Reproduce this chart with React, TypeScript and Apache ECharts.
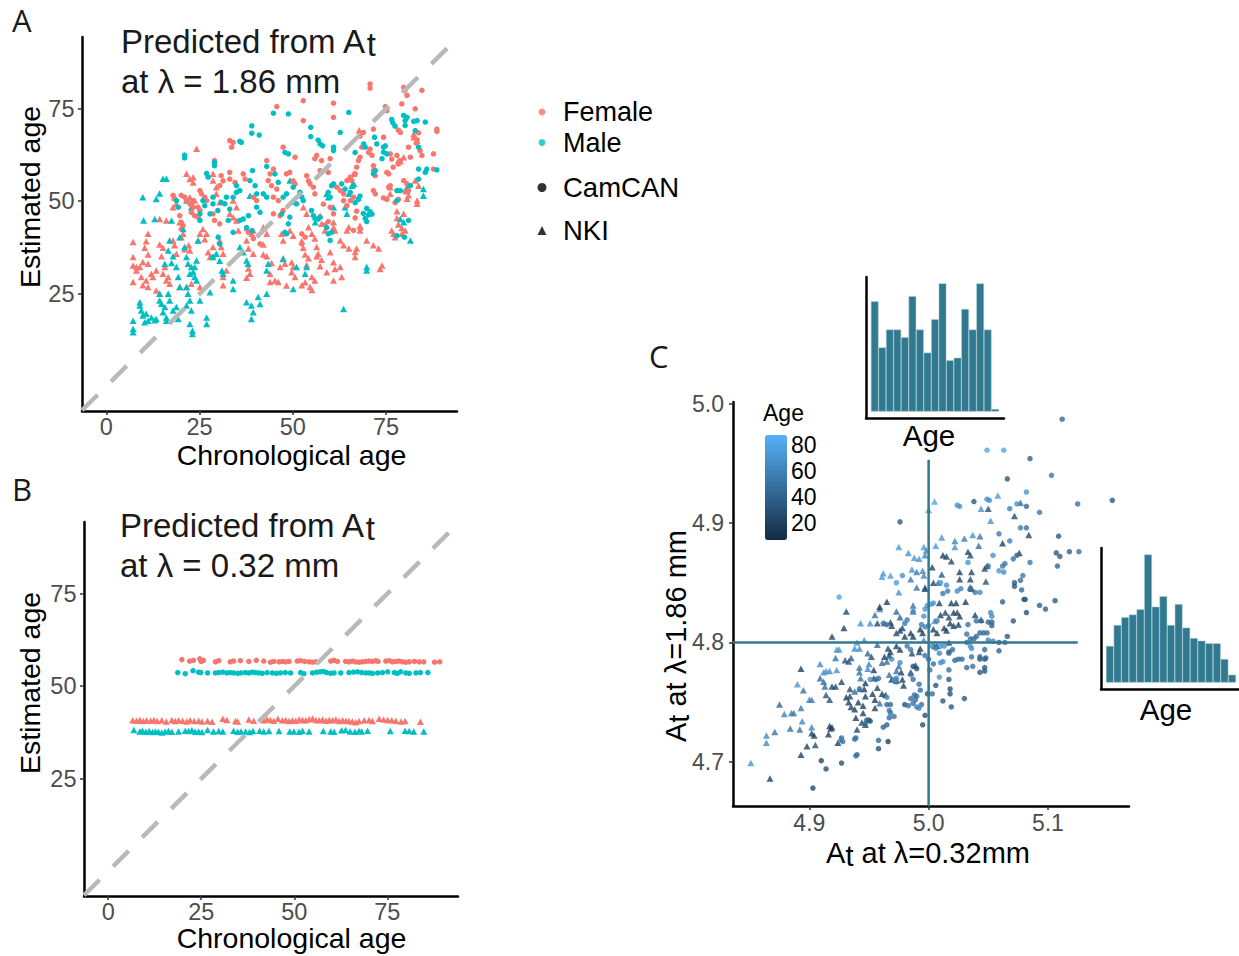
import { useEffect, useRef } from 'react';
import * as echarts from 'echarts';

const FONT = "'Liberation Sans', Arial, sans-serif";
const FEMALE = '#F8766D';
const MALE = '#00BFC4';
const HIST = '#31798f';

// ---------- Panel A: predicted from At at λ = 1.86 mm  [chronological age, estimated age]
const aFemaleCamCAN: number[][] = [
  [70.7,81.7],[70.7,80.6],[79.7,80.8],[80.1,80],[84.6,80],[80.6,78.6],[52.8,77.2],[45.7,75.6],[60.9,76.5],[60.9,72.7],
  [52.8,71.8],[74.8,75.6],[75.2,74.5],[82.8,75],[79.2,76.3],[71.6,69.5],[74.3,67.3],[68,67.6],[68.9,68.6],[78.3,69.2],
  [78.8,68.6],[83.7,68.5],[83.3,66.6],[83.1,65.7],[88.6,69.5],[88.6,68.9],[87.7,62.8],[87.7,58.7],[84.1,63.7],[84.6,62.4],
  [81.5,61.9],[81,64.6],[76.1,62.8],[76.5,61.4],[77.9,62.4],[78.3,60.1],[76.9,59.2],[78.8,61],[70.3,63.2],[70.7,64.1],
  [71.2,62.4],[68.5,64.6],[68,61.9],[67.6,61],[71.6,59.6],[71.6,58.3],[72.1,56.9],[75.2,57.8],[75.7,57.4],[76.1,54.2],
  [75.7,53.8],[74.3,50.9],[75.2,50.5],[77.4,49.6],[78.3,50.5],[80.6,54.7],[79.7,55.6],[80.1,52.5],[81,52.9],[71.6,52.9],
  [72.1,52],[67.1,59.2],[66.7,57.4],[65.8,55.6],[61.8,53.8],[62.7,52.9],[63.6,52],[64.5,55.6],[65.4,56.5],[60,61.5],
  [57.7,61],[56.4,62.4],[55.9,61.5],[57.3,58.3],[57.7,57.8],[59.5,57.8],[55.5,53.8],[55.9,52],[58.2,49.2],[60,48.4],
  [60.9,46.6],[63.6,50.2],[64.5,48.8],[65.4,50.2],[66.3,51.1],[67.1,47.3],[66.7,45.5],[53.7,56.9],[54.2,55.5],[54.6,54.7],
  [50.1,55.5],[50.6,54.7],[48.3,57.4],[49.2,57.8],[47.4,64.6],[50.6,61.9],[44.8,58.7],[43.9,57.4],[43.4,55.6],[44.3,54.2],
  [45.7,53.3],[44.8,51.1],[46.1,50.2],[43,61],[39.4,51.1],[40.3,50.2],[36.7,57.4],[37.2,56],[34,65.9],[33.6,64.6],
  [33.1,66.4],[33.1,57.8],[33.1,56],[34.5,55.1],[30.8,56.9],[31.3,55.5],[30.4,54.2],[29,61],[25.1,52.9],[25.5,52],
  [26.4,51.1],[26.9,50.2],[24.6,48.4],[25.1,47.5],[28.6,46.6],[29,44.8],[30.4,43.9],[23.3,50.2],[22.4,49.3],[23.3,48.4],
  [22.8,47],[23.7,46.1],[21,51.1],[21.5,50.2],[20.1,51.6],[17.9,51.6],[18.3,50.7],[19.7,46.1],[20.1,44.3],[20.6,43.4],
  [24.6,45.7],[39.4,39.9],[41.2,38.5],[37.6,42.5],[38.1,41.6],[52.4,41.2],[53.3,40.3],[52.4,38.5],[47.4,47.5],[46.6,46.1],
  [44.8,46.6],[59.5,44.5],[58.6,43.6],[66.3,42.1],[68.1,42.5]
];
const aFemaleNKI: number[][] = [
  [7.2,39],[7.2,34.9],[7.2,32.6],[8.1,32.2],[7.2,28.2],[8.1,31.3],[9,32.2],[9.4,29.5],[10.7,28.6],[9.8,27.3],
  [11.2,26.8],[10.7,39.2],[10.3,37.4],[11.2,35.6],[9.8,33.6],[11.2,33.1],[12.1,30.4],[12.5,29.5],[13.4,31.3],[14.3,38.3],
  [15.2,37.4],[14.8,35.1],[15.7,32.2],[15.2,30.4],[16.6,29.5],[13.4,25.9],[14.3,25],[16.1,28.6],[17,27.7],[11.2,41.2],
  [14.3,45.2],[16.1,44.8],[18.3,51.1],[18.8,49.3],[17.9,48.4],[19.7,44.3],[20.1,43],[17.9,39.4],[18.3,38.1],[18.8,35.8],
  [20.6,41.2],[20.1,40.3],[21,37],[22.1,38.1],[22.4,36.7],[22.4,51.1],[22.8,49.7],[23.7,50.2],[24.2,64.2],[23.3,56.5],
  [23.3,55.1],[25.9,42.5],[26.9,41.2],[26.4,39.7],[25.1,41.2],[24.6,39.4],[27.3,36.2],[28.6,37.6],[27.8,34.9],[31.3,29.5],
  [31.3,27.3],[32.2,31.3],[25.1,26.8],[30.4,39.4],[30.8,37.6],[31.3,35.8],[34,45.7],[34.9,44.8],[35.4,42.1],[33.1,46.6],
  [37.6,39.4],[38.1,37.2],[39.4,35.8],[38.1,31.8],[38.5,30.4],[37.6,29.3],[42.1,38.3],[42.1,35.6],[43,35.1],[44.3,33.3],
  [43.9,30.4],[45.2,28.6],[43.9,28.2],[46.1,28.2],[46.6,32.2],[47.9,33.1],[47.4,34.6],[48.3,27.2],[49.7,33.5],[50.1,32.2],
  [49.7,30.8],[50.6,29.5],[52.4,39.2],[52.8,37.4],[53.3,35.6],[54.2,34.6],[53.7,32.8],[53.3,28.1],[52.4,27.3],[54.6,26.8],
  [55.1,29.5],[55.9,28.6],[55.1,26],[54.2,43],[55.1,41.2],[55.9,39.9],[57.3,46.1],[57.7,43.9],[58.6,42.1],[56.4,35.1],
  [57.7,34.2],[57.3,32.4],[60,36.2],[60.9,33.5],[61.3,31.7],[59.1,30.8],[60.9,28.6],[62.7,32.2],[63.1,29.5],[60.9,44.3],
  [60.9,42.9],[61.3,42.1],[62.7,39.4],[63.6,38.1],[65,37.2],[66.7,36.3],[67.1,37.2],[66.7,34.9],[64.5,42.1],[65,43],
  [68,43.4],[68,42.1],[67.8,69.2],[66.3,57.4],[69.8,39.4],[71.6,38.1],[73,37.2],[73.9,32.6],[73.4,31.7],[76.1,53.8],
  [76.1,52],[76.5,42.1],[77,41.2],[77.9,47.3],[77.9,45.5],[78.3,43.7],[79.2,42.8],[79.7,46.6],[80.1,42.1],[81,51.6],
  [80.6,50.7],[83.3,49.3],[83.3,50.2],[78.3,61],[78.8,60.8],[79.7,61.9],[82.4,68.2],[82.4,67.3],[83.3,66.4],[82.8,55.6],
  [83.7,54.2],[77.4,40.3],[79.2,41.2],[21.5,26.8],[22.8,27.7],[19.7,26.8],[21.5,57.4],[22.4,56],[28.6,57.4],[28.6,55.6],
  [29.5,53.8],[29.5,52],[30.4,49.7],[34,50.2],[34.9,48.4],[39,41.2],[39.4,42.1],[42.1,43],[43,41.2],[47,41.2],
  [47.4,39.4],[49.2,42.1],[50.1,40.7],[52.8,48.4],[53.7,46.6],[56.4,37.6],[56.8,35.8]
];
const aMaleCamCAN: number[][] = [
  [21,62.5],[21,61.7],[44.8,73.8],[48.8,73.6],[39,70.4],[39,68.4],[41,67.9],[35.8,66.2],[36.2,65.9],[29,60.5],
  [29,59.6],[26.9,57.5],[27.3,56.5],[39.2,58.3],[38.5,55.6],[39.9,54.2],[40.3,52],[43,59.4],[47.9,63.2],[48.8,62.8],
  [54.8,70],[54.8,67.5],[56.8,66.5],[57.3,65.5],[58,65],[65,74],[62.7,68.6],[60.9,64.6],[60.9,63.7],[66.7,63.2],
  [69,65.5],[69.4,64.6],[71.9,67.3],[72.5,65.5],[74.3,64.6],[74.8,65],[75.2,62.8],[76.5,72.1],[76.8,71.2],[77.4,70.3],
  [79.7,73.2],[80.1,71.8],[80.6,72.7],[80.1,70.5],[82.4,71.6],[83.3,71.8],[85.5,71.4],[82.8,69.1],[81.5,54.2],[83.7,58.7],
  [83.7,56],[85.5,57.8],[85.9,58.7],[88.6,58.5],[77.9,52.9],[83.7,64.6],[79.9,40.3],[77.9,40.7],[69.8,48.1],[70.3,46.3],
  [69.4,45.4],[68.9,46.7],[69.8,44.5],[70.7,47.2],[71.2,46.5],[68,51.4],[67.6,50.5],[66.7,49.6],[66.3,54.2],[64,53.3],
  [65.4,52.4],[63.1,54.7],[60.9,54.7],[60.4,54.2],[59.5,52.4],[60,51.1],[59.1,42.9],[60.4,41.6],[59.5,41.2],[60,39.4],
  [57.3,45.7],[56.8,45.2],[55,47.5],[55.5,46.1],[51.9,52.4],[52.4,51.1],[52.8,50.2],[50.1,49.7],[51,49.3],[47.4,51.1],
  [48.3,52],[47,46.6],[49.2,45.7],[48.8,43.9],[47.9,41.6],[48.3,41.2],[46.1,55.1],[42.1,52],[43,51.1],[40.3,48.4],
  [41.2,47],[38.1,46.1],[36.7,45.2],[37.6,42.9],[39,42],[35.8,52.9],[34.9,54.2],[34.9,52.4],[34,51.1],[32.2,51.1],
  [31.8,49.3],[33.1,47.9],[32.7,44.8],[30.8,49.7],[29.9,47.5],[28.6,51.1],[28.6,49.3],[27.8,46.6],[25.9,50.2],[26.4,48.8],
  [25.1,46.6],[25.1,44.8],[30,40.3],[30.4,38.5],[28.6,34.9],[34,41.6],[35.8,44.8],[18.8,50.2],[19.3,48.4],[50.1,53.8],
  [45.2,57.4],[72.1,58.3],[71.6,57.4],[73.9,61.5],[74.3,63.3],[77.9,50.2],[78.8,52.9],[81,44.8]
];
const aMaleNKI: number[][] = [
  [7.2,17.7],[7.2,15.5],[7.2,14.6],[9,22.7],[9,21.8],[9.4,20.5],[9.8,19.1],[10.7,19.6],[11.2,17.7],[10.3,17.3],
  [13,17.8],[13.4,18.2],[14.3,25],[14.3,23.2],[14.8,22.3],[15.7,21.4],[15.2,20],[16.1,18.6],[16.1,17.7],[12.1,18.6],
  [9.8,51.1],[10,44.8],[13,45.2],[13.4,50.6],[14.3,52.1],[15.2,56.1],[16.1,56.1],[16.6,25],[17,23.2],[17.9,20.5],
  [18.8,21.4],[19.3,18.2],[17,39.4],[17.9,35.1],[17.5,33.3],[18.8,32.2],[19.3,29.5],[19.7,26.8],[21.5,26.8],[21.9,25],
  [22.4,23.2],[21.5,21.8],[22.8,20.5],[22.4,16.8],[23.1,15],[23.1,14.1],[21,37.6],[21.5,34.9],[21.9,33.1],[22.8,32.2],
  [23.3,30.9],[22.4,30.4],[23.7,29.5],[24.2,28.6],[24.2,34],[23.7,32.2],[24.6,39.4],[25.1,23.2],[26.9,18.6],[26.9,16.8],
  [27.8,25.4],[21.5,50.2],[22.8,48.4],[28.6,34.9],[29.5,35.8],[30.4,33.9],[31,31.3],[31.3,30.4],[34,28.6],[34,26.3],
  [37.6,22.7],[38.9,21.8],[39.4,20],[38.9,18.2],[40.7,24.1],[41.2,22.2],[43,25],[37.6,34],[38,33.1],[35.8,37.6],
  [36.7,36.2],[43.4,33.1],[43,31.3],[47.4,34.4],[50.1,26.3],[53.3,30.4],[53.7,32.2],[51,32.2],[63.6,20.9],[69.8,32.2],
  [69.8,31.3],[78.8,45.2],[79.7,44.3],[81.5,39.4],[85,53.3],[85,51.5],[80.6,53.8],[80.6,52.9],[66.3,54.7],[65.8,54.2],
  [65,52],[59.1,52],[59.5,51.1],[60.9,48.4],[56,45.7],[56,44.3],[64,48.4],[64.5,46.6],[49.2,55.6],[38.5,51.5],
  [15.7,33.1],[16.6,36.7],[17.5,44.8],[19.7,40.3],[20.6,42.5]
];

// ---------- Panel B: predicted from At at λ = 0.32 mm
const bFemaleCamCAN: number[][] = [
  [19.8,57.2],[21.9,56.8],[22.9,57],[24.6,57.4],[25,56.7],[25.6,57],[28.8,56.6],[29.7,56.9],[32.8,56.6],[33.7,56.8],
  [35.5,56.9],[37.8,56.7],[39.8,57],[41.8,56.8],[43.6,56.5],[44.5,56.7],[45.9,56.6],[46.8,56.7],[47.7,56.6],[48.6,56.7],
  [50.8,56.8],[51.7,56.9],[52.8,56.7],[54,56.6],[54.9,56.5],[55.8,56.6],[59.8,56.8],[60.7,57],[61.6,56.7],[63.8,56.7],
  [64.7,56.6],[65.6,56.8],[66.5,56.6],[67.4,56.5],[68.3,56.6],[69.2,56.7],[70.1,56.8],[71,56.7],[71.9,56.9],[72.5,56.7],
  [74.6,56.8],[75.5,56.9],[76.4,56.6],[77.3,56.7],[78.2,56.8],[79.1,56.6],[80,56.5],[80.9,56.6],[82.3,56.7],[83.6,56.6],
  [84.8,56.6],[87.7,56.5],[89.1,56.6]
];
const bMaleCamCAN: number[][] = [
  [18.7,53.7],[20.7,53.4],[22.8,54.2],[24.3,53.8],[24.9,53.7],[26.7,53.6],[28.8,53.6],[29.7,53.7],[30.8,53.8],[31.9,53.6],
  [32.8,53.7],[33.7,53.6],[34.8,53.5],[35.7,53.6],[36.9,53.7],[37.8,53.6],[38.7,53.8],[39.6,53.7],[40.5,53.6],[41.4,53.5],
  [42.7,53.7],[44.1,53.6],[45.2,53.5],[46.3,53.6],[47.6,53.7],[49,53.6],[51.7,53.7],[52.6,53.4],[54.9,53.6],[56,53.8],
  [56.9,53.9],[57.8,54],[58.7,53.7],[59.8,53.5],[60.7,53.6],[62.5,53.6],[64.7,53.7],[65.9,53.8],[67,53.9],[68.1,53.7],
  [69.2,53.6],[70.1,53.6],[71,53.5],[72.4,53.6],[73.7,53.7],[75.1,53.9],[76.9,53.7],[77.7,53.5],[78.6,53.9],[80,53.6],
  [80.9,53.5],[82.7,53.6],[83.9,53.7],[85.9,53.7]
];
const bFemaleNKI: number[][] = [
  [6.6,40.8],[7.6,40.7],[8.5,40.9],[9.4,40.6],[10.3,40.8],[11.4,40.7],[12.3,40.9],[13.2,40.6],[14.4,40.8],[15.6,40.5],
  [17.1,40.9],[18,40.6],[18.9,40.8],[20,40.7],[21.1,40.5],[22,40.8],[23.1,40.6],[24.3,40.7],[25.2,40.5],[26.7,40.6],
  [27.9,40.4],[30.8,41.2],[31.9,40.9],[34.2,40.6],[34.8,40.5],[37.8,41],[39.1,40.7],[41.8,40.8],[42.7,41.1],[43.6,40.9],
  [44.5,40.7],[45.6,41.2],[46.8,40.8],[47.7,40.9],[48.6,40.6],[49.5,40.8],[50.4,40.7],[51.3,41],[52.2,40.9],[53.1,40.8],
  [54,41.1],[54.9,41.3],[55.8,40.9],[56.7,40.8],[57.6,41],[58.5,40.7],[59.4,40.9],[60.3,40.8],[61.2,41],[62.1,40.6],
  [63,40.8],[63.9,40.7],[64.7,40.6],[65.6,40.5],[66.5,40.3],[67.4,40.6],[68.8,40.8],[70.1,40.9],[71,40.6],[72.8,41.2],
  [74,41],[75.1,40.9],[76.2,40.8],[77.3,40.7],[78.7,40.5],[79.8,40.6],[83.9,40.4]
];
const bMaleNKI: number[][] = [
  [6.9,38.2],[8.5,37.8],[9.2,38],[10.1,37.7],[11,37.9],[11.9,37.6],[12.7,37.8],[13.5,37.7],[14.4,37.5],[15.3,37.8],
  [16.2,37.9],[17.1,37.7],[18.9,37.8],[20.7,38],[21.6,37.9],[22.5,38.1],[23.4,37.7],[24.3,37.8],[25.2,37.6],[26.7,38.2],
  [28.3,37.8],[29.7,37.9],[30.8,37.8],[33.7,38],[34.8,37.7],[35.7,37.8],[36.9,37.8],[38,37.6],[38.9,37.9],[40.7,38],
  [41.8,37.8],[43.2,37.9],[45.9,37.9],[48.8,37.8],[49.9,37.8],[51.3,37.7],[52.2,38],[54,37.8],[57.8,37.9],[59.8,37.8],
  [60.7,37.7],[62.7,38.1],[63.8,38.2],[65,37.8],[66.3,37.7],[67.4,37.9],[68.1,37.8],[69.7,38],[75.8,37.9],[79.8,38],
  [80.9,37.9],[82.1,37.8],[84.8,37.8]
];

// identity line endpoints (value on both axes)
const identityEnds = [-6.5, 94];

// ---------- Panel C: [At at λ=0.32mm, At at λ=1.86mm, Age]
const cCamCAN: number[][] = [
  [5.112,4.987,45],[5.049,4.961,82],[5.063,4.961,80],[5.085,4.954,40],[5.066,4.937,35],[5.103,4.940,55],[5.154,4.919,35],[5.125,4.916,50],
  [5.038,4.918,35],[5.049,4.920,65],[5.051,4.919,68],[5.024,4.915,72],[5.026,4.914,70],[5.068,4.912,60],[5.074,4.916,70],[5.082,4.926,72],
  [5.082,4.914,45],[5.093,4.909,55],[4.976,4.901,35],[5.077,4.896,55],[5.082,4.896,50],[5.109,4.889,35],[5.059,4.891,55],[5.068,4.885,60],
  [5.107,4.875,35],[5.110,4.872,38],[5.118,4.876,40],[5.126,4.876,50],[5.108,4.864,45],[5.085,4.867,55],[5.054,4.873,70],[5.071,4.870,50],
  [5.074,4.873,45],[5.064,4.866,55],[5.062,4.864,52],[5.050,4.864,50],[5.059,4.860,70],[5.063,4.859,68],[5.079,4.856,55],[5.077,4.852,50],
  [5.072,4.850,35],[5.072,4.847,33],[5.078,4.844,45],[5.080,4.836,30],[5.106,4.835,35],[5.062,4.834,40],[5.033,4.867,70],[4.925,4.838,80],
  [4.978,4.856,70],[4.973,4.850,75],[5.012,4.841,55],[5.016,4.843,55],[5.024,4.843,65],[5.027,4.845,62],[5.035,4.845,55],[5.039,4.842,55],
  [5.043,4.842,65],[5.010,4.850,70],[5.015,4.848,68],
  [4.903,4.678,25],[4.914,4.694,30],[4.910,4.701,25],[4.927,4.699,30],[4.939,4.705,50],[4.940,4.706,48],[4.939,4.720,45],[4.938,4.719,50],
  [4.927,4.720,50],[4.928,4.717,52],[4.958,4.711,30],[4.966,4.717,20],[4.958,4.718,45],[4.962,4.729,40],[4.965,4.731,42],[4.967,4.737,45],
  [4.968,4.741,50],[4.971,4.738,50],[4.967,4.743,55],[4.948,4.735,45],[4.947,4.732,45],[4.950,4.735,35],[4.951,4.734,35],[4.995,4.731,30],
  [4.997,4.739,30],[4.994,4.748,50],[4.990,4.746,60],[4.992,4.745,60],[4.980,4.748,30],[4.983,4.747,50],[4.987,4.749,50],[4.985,4.753,50],
  [4.989,4.752,50],[4.988,4.756,50],[4.990,4.755,48],[4.993,4.760,50],[4.992,4.765,50],[4.999,4.757,30],[5.003,4.757,45],[5.006,4.764,35],
  [5.012,4.751,35],[5.019,4.746,35],[5.018,4.757,30],[5.018,4.761,30],[5.017,4.769,35],[5.030,4.753,35],[5.009,4.771,70],[5.010,4.783,70],
  [5.012,4.784,68],[5.017,4.777,50],[5.009,4.791,65],[5.006,4.795,65],[5.013,4.797,70],[5.017,4.792,50],[5.032,4.800,50],[5.032,4.807,50],
  [5.035,4.803,45],[5.038,4.803,45],[5.040,4.805,45],[5.043,4.808,45],[5.046,4.808,45],[5.049,4.808,45],[5.037,4.780,50],[5.036,4.788,50],
  [5.035,4.797,70],[5.036,4.795,70],[5.043,4.788,40],[5.043,4.786,40],[5.047,4.786,40],[5.048,4.787,40],[5.047,4.779,35],[5.047,4.776,35],
  [5.043,4.775,35],[5.032,4.779,45],[5.028,4.786,45],[5.025,4.786,45],[5.022,4.785,45],[5.020,4.794,45],[5.017,4.791,45],[5.047,4.794,45],
  [5.059,4.793,40],[5.059,4.800,40],[5.064,4.800,50],[5.066,4.805,35],[5.050,4.802,60],[5.054,4.801,60],[5.050,4.817,40],[5.053,4.817,40],
  [5.053,4.814,40],[5.053,4.822,65],[5.052,4.825,65],[5.071,4.818,35],[5.082,4.825,30],[5.093,4.831,40],[5.098,4.828,40],[5.081,4.836,35],
  [5.040,4.818,50],[5.044,4.818,50],[5.033,4.815,50],[4.997,4.828,70],[4.999,4.831,70],[5.002,4.832,70],[5.004,4.833,70],[4.996,4.822,70],
  [4.987,4.826,65],[4.994,4.815,60],[4.997,4.813,60],[5.000,4.814,60],[5.007,4.818,55],[5.010,4.797,70],[5.003,4.797,65],[4.987,4.780,30],
  [4.990,4.778,30],[4.985,4.773,50],[4.987,4.769,50],[4.973,4.767,60],[4.973,4.770,60],[4.965,4.754,70],[4.965,4.748,45],[4.968,4.748,45],
  [4.971,4.769,65],[4.958,4.770,50],[4.956,4.769,50],[4.951,4.769,70],[4.942,4.761,55],[4.962,4.816,50],[4.965,4.815,50],[4.969,4.786,65],
  [4.976,4.783,65],[4.982,4.819,55],[4.980,4.816,55],[4.997,4.789,50],[5.000,4.786,50],[5.004,4.782,50],[5.001,4.777,50],[4.982,4.797,55],
  [4.985,4.794,55]
];
const cNKI: number[][] = [
  [5.005,4.918,80],[5.000,4.911,75],[5.058,4.923,75],[5.044,4.912,70],[5.050,4.912,30],[5.077,4.917,45],[5.072,4.906,25],[5.052,4.902,70],
  [5.084,4.890,25],[5.076,4.875,20],[5.062,4.883,20],[5.043,4.889,50],[5.037,4.890,70],[5.030,4.887,55],[5.022,4.885,60],[5.011,4.888,70],
  [5.006,4.881,75],[4.996,4.880,75],[4.975,4.880,75],[4.983,4.875,70],[4.988,4.871,70],[4.992,4.870,70],[4.997,4.873,65],[4.998,4.877,65],
  [5.012,4.873,20],[5.015,4.872,20],[5.019,4.868,25],[5.033,4.876,25],[5.035,4.873,30],[5.042,4.881,50],[5.022,4.880,70],[5.003,4.863,20],
  [4.995,4.860,65],[4.996,4.856,65],[5.011,4.857,35],[5.026,4.859,20],[5.036,4.859,25],[5.047,4.862,30],[5.049,4.864,25],[5.026,4.853,25],
  [5.035,4.853,25],[5.048,4.851,30],[5.035,4.846,20],[5.036,4.845,20],[4.986,4.861,70],[4.962,4.858,75],[4.968,4.856,75],[4.961,4.855,75],
  [4.975,4.842,70],[4.990,4.846,50],[4.997,4.846,50],[4.997,4.845,25],[5.004,4.850,25],[5.008,4.850,50],[4.985,4.853,55],[4.990,4.859,55],
  [4.851,4.699,70],[4.867,4.686,20],[4.864,4.722,65],[4.864,4.716,65],[4.871,4.725,50],[4.875,4.748,45],[4.879,4.740,60],[4.885,4.741,60],
  [4.887,4.741,55],[4.884,4.728,50],[4.892,4.727,50],[4.893,4.745,55],[4.890,4.765,70],[4.893,4.778,20],[4.895,4.760,50],[4.894,4.734,65],
  [4.902,4.729,60],[4.902,4.724,20],[4.904,4.722,20],[4.898,4.713,20],[4.893,4.706,20],[4.905,4.714,30],[4.900,4.752,60],[4.902,4.752,60],
  [4.909,4.782,65],[4.912,4.775,70],[4.914,4.776,70],[4.917,4.776,65],[4.909,4.770,45],[4.912,4.767,45],[4.913,4.763,45],[4.919,4.763,25],
  [4.922,4.763,25],[4.914,4.756,30],[4.917,4.752,30],[4.917,4.730,20],[4.918,4.728,20],[4.919,4.729,20],[4.916,4.723,20],[4.924,4.716,20],
  [4.926,4.719,60],[4.923,4.777,70],[4.922,4.787,50],[4.925,4.794,70],[4.923,4.794,70],[4.919,4.805,20],[4.929,4.812,20],[4.931,4.826,25],
  [4.938,4.795,65],[4.942,4.795,65],[4.940,4.800,75],[4.946,4.802,75],[4.927,4.767,25],[4.930,4.785,30],[4.933,4.784,30],[4.935,4.787,35],
  [4.931,4.754,20],[4.933,4.750,20],[4.935,4.746,20],[4.938,4.744,20],[4.939,4.737,20],[4.934,4.755,25],[4.934,4.761,25],[4.938,4.759,45],
  [4.942,4.761,45],[4.942,4.779,50],[4.942,4.775,50],[4.943,4.770,50],[4.947,4.766,20],[4.946,4.761,20],[4.947,4.755,20],[4.941,4.750,20],
  [4.945,4.747,20],[4.945,4.741,20],[4.940,4.727,25],[4.944,4.733,25],[4.947,4.731,25],[4.949,4.778,65],[4.950,4.782,65],[4.943,4.816,70],
  [4.951,4.816,70],[4.955,4.823,50],[4.959,4.828,50],[4.957,4.816,25],[4.963,4.816,65],[4.957,4.798,45],[4.949,4.791,45],[4.952,4.788,30],
  [4.954,4.777,20],[4.954,4.770,25],[4.957,4.762,25],[4.953,4.757,20],[4.955,4.752,20],[4.955,4.745,20],[4.959,4.749,50],[4.961,4.757,20],
  [4.964,4.756,20],[4.961,4.783,45],[4.965,4.784,45],[4.963,4.788,20],[4.967,4.789,20],[4.966,4.795,25],[4.968,4.792,25],[4.973,4.797,20],
  [4.976,4.794,20],[4.969,4.769,20],[4.973,4.768,20],[4.967,4.773,50],[4.975,4.780,50],[4.973,4.776,50],[4.977,4.775,20],[4.978,4.769,20],
  [4.979,4.764,20],[4.985,4.775,30],[4.989,4.781,25],[4.993,4.795,20],[4.986,4.791,25],[4.992,4.792,25],[4.973,4.808,25],[4.976,4.810,25],
  [4.978,4.812,25],[4.980,4.805,20],[4.985,4.808,20],[4.987,4.805,20],[4.993,4.811,20],[4.995,4.808,20],[4.996,4.802,65],[5.004,4.811,20],
  [5.007,4.808,20],[5.007,4.797,20],[5.005,4.797,20],[5.017,4.800,25],[5.005,4.818,70],[5.018,4.816,20],[5.021,4.814,20],[5.025,4.815,20],
  [5.010,4.823,20],[5.014,4.825,25],[5.017,4.821,25],[5.021,4.825,20],[5.024,4.825,25],[5.026,4.822,20],[5.039,4.823,20],[5.044,4.819,20],
  [5.019,4.833,20],[5.023,4.833,20],[5.031,4.834,20],[5.009,4.833,20],[5.015,4.810,20],[5.013,4.812,20],[4.965,4.834,20],[4.959,4.830,20],
  [4.973,4.826,45],[4.976,4.821,40],[4.987,4.826,50],[4.987,4.831,50],[4.968,4.817,25],[4.969,4.814,25]
];

// reference cross lines in panel C
const crossX = 5.0;
const crossY = 4.8;
const crossXEnd = 5.125;
const crossYEnd = 4.953;

// marginal histograms of Age (counts per bin)
const topAgeCounts = [43, 25, 32, 32, 29, 45, 32, 23, 36, 50, 20, 21, 40, 32, 50, 32, 1];
const rightAgeCounts = [14, 22, 25, 26, 28, 49, 29, 33, 22, 30, 21, 17, 16, 15, 15, 9, 3];

// colour scale
const ageMin = 7;
const ageMax = 88;
const ageTicks = [20, 40, 60, 80];

// axis ticks
const ageAxisTicksX = [0, 25, 50, 75];
const ageAxisTicksY = [25, 50, 75];
const atTicksX = [4.9, 5.0, 5.1];
const atTicksY = [4.7, 4.8, 4.9, 5.0];

const LABEL = { fontSize: 23.5, color: '#4d4d4d', fontFamily: FONT, lineHeight: 20 };
const LINE = { show: true, onZero: false, lineStyle: { color: '#000', width: 2.5 } };
const TICK = { lineStyle: { color: '#333', width: 1.5 }, length: 4 };
const NAME_FS = 28.5;

function ageXAxis(grid: number, gap: number, pad: number) {
  return {
    type: 'value', gridIndex: grid, min: -6.5, max: 94,
    name: 'Chronological age', nameLocation: 'middle', nameGap: gap, nameMoveOverlap: false,
    nameTextStyle: { fontSize: NAME_FS, lineHeight: 26, color: '#000', fontFamily: FONT, padding: [0, 0, 0, pad] },
    axisLine: LINE,
    axisTick: { show: true, ...TICK, customValues: ageAxisTicksX },
    axisLabel: { ...LABEL, margin: 5.5, customValues: ageAxisTicksX },
    splitLine: { show: false },
  };
}
function ageYAxis(grid: number, gap: number, pad: number) {
  return {
    type: 'value', gridIndex: grid, min: -6.7, max: 94.4,
    name: 'Estimated age', nameLocation: 'middle', nameRotate: 90, nameGap: gap, nameMoveOverlap: false,
    nameTextStyle: { fontSize: NAME_FS, lineHeight: 26, color: '#000', fontFamily: FONT, padding: [0, 0, 0, pad] },
    axisLine: LINE,
    axisTick: { show: true, ...TICK, customValues: ageAxisTicksY },
    axisLabel: { ...LABEL, margin: 7.5, customValues: ageAxisTicksY },
    splitLine: { show: false },
  };
}
function histAxis(grid: number, min: number, max: number, name?: string, gap?: number, pad?: number[]) {
  return {
    type: 'value', gridIndex: grid, min, max,
    name: name || '', nameLocation: 'middle', nameGap: gap || 0, nameMoveOverlap: false,
    nameTextStyle: { fontSize: 29.5, lineHeight: 26, color: '#000', fontFamily: FONT, padding: pad || 0 },
    axisLine: LINE, axisTick: { show: false }, axisLabel: { show: false }, splitLine: { show: false },
  };
}

const subRich = (size: number) => ({
  a: { fontSize: size, fontWeight: 'normal', color: '#1a1a1a', fontFamily: FONT, lineHeight: 40 },
  s: { fontSize: size, fontWeight: 'normal', color: '#1a1a1a', fontFamily: FONT, lineHeight: 32, padding: [7, 0, 0, 0] },
});
const axisRich = {
  a: { fontSize: 29, color: '#000', fontFamily: FONT, lineHeight: 28 },
  s: { fontSize: 29, color: '#000', fontFamily: FONT, lineHeight: 22, padding: [6, 0, 0, 0] },
};

function scatter(name: string, data: number[][], grid: number, color: string, tri: boolean) {
  return {
    name, type: 'scatter', xAxisIndex: grid, yAxisIndex: grid, data, silent: true,
    symbol: tri ? 'triangle' : 'circle', symbolSize: tri ? [7, 6.5] : 5.5,
    itemStyle: { color, opacity: 1 },
  };
}

export default function App() {
  const ref = useRef<HTMLDivElement>(null);
  useEffect(() => {
    if (!ref.current) return;
    const chart = echarts.init(ref.current, null, { renderer: 'svg' });
    const diag = identityEnds.map((v) => [v, v]);
    const letter = (t: string, left: number, top: number) => ({
      type: 'text', left, top,
      style: { text: t, fontSize: 31, lineHeight: 31, fontFamily: "'Open Sans', sans-serif", fill: '#1a1a1a' },
    });
    const option: any = {
      animation: false,
      textStyle: { fontFamily: FONT },
      grid: [
        { left: 82, top: 37, width: 375, height: 374, outerBoundsMode: 'none' },
        { left: 84, top: 522, width: 374, height: 374, outerBoundsMode: 'none' },
        { left: 733, top: 402, width: 396, height: 404, outerBoundsMode: 'none' },
        { left: 866, top: 277, width: 138, height: 141, outerBoundsMode: 'none' },
        { left: 1101, top: 548, width: 140, height: 141, outerBoundsMode: 'none' },
        { left: 765, top: 435, width: 22, height: 105, outerBoundsMode: 'none' },
      ],
      title: [
        { left: 121, top: 21, padding: 0, text: '{a|Predicted from A}{s|t}\n{a|at λ = 1.86 mm}', textStyle: { fontWeight: 'normal', rich: subRich(33) } },
        { left: 120, top: 505, padding: 0, text: '{a|Predicted from A}{s|t}\n{a|at λ = 0.32 mm}', textStyle: { fontWeight: 'normal', rich: subRich(33) } },
      ],
      legend: [
        {
          data: [
            { name: 'Female', icon: 'circle', itemStyle: { color: FEMALE } },
            { name: 'Male', icon: 'circle', itemStyle: { color: MALE } },
          ],
          orient: 'vertical', left: 538.5, top: 98.5, padding: 0, itemGap: 3.5, itemWidth: 7, itemHeight: 7,
          selectedMode: false,
          textStyle: { fontSize: 27, lineHeight: 27, color: '#000', fontFamily: FONT, padding: [0, 0, 0, 12.5] },
        },
        {
          data: [
            { name: 'CamCAN', icon: 'circle', itemStyle: { color: '#000' } },
            { name: 'NKI', icon: 'triangle', itemStyle: { color: '#000' } },
          ],
          orient: 'vertical', left: 537.5, top: 173.5, padding: 0, itemGap: 15, itemWidth: 9, itemHeight: 9,
          selectedMode: false,
          textStyle: { fontSize: 27.5, lineHeight: 27, color: '#000', fontFamily: FONT, padding: [0, 0, 0, 11.5] },
        },
      ],
      visualMap: {
        type: 'continuous', min: ageMin, max: ageMax, dimension: 2, seriesIndex: [14, 15],
        inRange: { color: ['#132B43', '#56B1F7'] },
        left: 765, top: 435, itemWidth: 22, itemHeight: 105, padding: 0,
        calculable: false, hoverLink: false, orient: 'vertical',
      },
      xAxis: [
        ageXAxis(0, 30.5, 44),
        ageXAxis(1, 29, 41),
        {
          type: 'value', gridIndex: 2, min: 4.836, max: 5.168,
          name: '{a|A}{s|t}{a| at λ=0.32mm}', nameLocation: 'middle', nameGap: 33, nameMoveOverlap: false,
          nameTextStyle: { padding: [0, 6, 0, 0], rich: axisRich },
          axisLine: LINE,
          axisTick: { show: true, ...TICK, customValues: atTicksX },
          axisLabel: { ...LABEL, fontSize: 23, margin: 7, customValues: atTicksX, formatter: (v: number) => v.toFixed(1) },
          splitLine: { show: false },
        },
        histAxis(3, -1.16, 17.16, 'Age', 4, [0, 12, 0, 0]),
        histAxis(4, -1.16, 17.16, 'Age', 7, [0, 10, 0, 0]),
        { type: 'value', gridIndex: 5, min: 0, max: 1, show: false },
      ],
      yAxis: [
        ageYAxis(0, 39.5, 54),
        ageYAxis(1, 41.5, 52),
        {
          type: 'value', gridIndex: 2, min: 4.663, max: 5.0014,
          name: '{a|A}{s|t}{a| at λ=1.86 mm}', nameLocation: 'middle', nameRotate: 90, nameGap: 43, nameMoveOverlap: false,
          nameTextStyle: { padding: [0, 64, 0, 0], rich: axisRich },
          axisLine: LINE,
          axisTick: { show: true, ...TICK, customValues: atTicksY },
          axisLabel: { ...LABEL, fontSize: 23, margin: 9, customValues: atTicksY, formatter: (v: number) => v.toFixed(1) },
          splitLine: { show: false },
        },
        histAxis(3, -2.5, 52.5),
        histAxis(4, -2.45, 51.45),
        {
          type: 'value', gridIndex: 5, min: ageMin, max: ageMax, position: 'right',
          axisLine: { show: false }, axisTick: { show: false }, splitLine: { show: false },
          axisLabel: { customValues: ageTicks, fontSize: 23, color: '#000', fontFamily: FONT, margin: 4 },
        },
      ],
      series: [
        // legend keys
        { name: 'Female', type: 'scatter', data: [], xAxisIndex: 0, yAxisIndex: 0, itemStyle: { color: FEMALE } },
        { name: 'Male', type: 'scatter', data: [], xAxisIndex: 0, yAxisIndex: 0, itemStyle: { color: MALE } },
        { name: 'CamCAN', type: 'scatter', data: [], xAxisIndex: 0, yAxisIndex: 0, itemStyle: { color: '#000' } },
        { name: 'NKI', type: 'scatter', symbol: 'triangle', data: [], xAxisIndex: 0, yAxisIndex: 0, itemStyle: { color: '#000' } },
        // A (4..8)
        scatter('A female NKI', aFemaleNKI, 0, FEMALE, true),
        scatter('A male NKI', aMaleNKI, 0, MALE, true),
        scatter('A female CamCAN', aFemaleCamCAN, 0, FEMALE, false),
        scatter('A male CamCAN', aMaleCamCAN, 0, MALE, false),
        {
          name: 'A identity', type: 'line', xAxisIndex: 0, yAxisIndex: 0, data: diag, symbol: 'none', silent: true, z: 5,
          lineStyle: { color: '#b9b9b9', width: 4.5, type: [22, 19] },
        },
        // B (9..13)
        scatter('B female CamCAN', bFemaleCamCAN, 1, FEMALE, false),
        scatter('B male CamCAN', bMaleCamCAN, 1, MALE, false),
        scatter('B female NKI', bFemaleNKI, 1, FEMALE, true),
        scatter('B male NKI', bMaleNKI, 1, MALE, true),
        {
          name: 'B identity', type: 'line', xAxisIndex: 1, yAxisIndex: 1, data: diag, symbol: 'none', silent: true, z: 5,
          lineStyle: { color: '#b9b9b9', width: 4.5, type: [22, 19] },
        },
        // C (14..17)
        { name: 'C NKI', type: 'scatter', xAxisIndex: 2, yAxisIndex: 2, data: cNKI, symbol: 'triangle', symbolSize: [7, 6.5], silent: true },
        { name: 'C CamCAN', type: 'scatter', xAxisIndex: 2, yAxisIndex: 2, data: cCamCAN, symbol: 'circle', symbolSize: 5.5, silent: true },
        {
          name: 'C vertical', type: 'line', xAxisIndex: 2, yAxisIndex: 2, symbol: 'none', silent: true, z: 5,
          data: [[crossX, 4.663], [crossX, crossYEnd]], lineStyle: { color: HIST, width: 2.5 },
        },
        {
          name: 'C horizontal', type: 'line', xAxisIndex: 2, yAxisIndex: 2, symbol: 'none', silent: true, z: 5,
          data: [[4.836, crossY], [crossXEnd, crossY]], lineStyle: { color: HIST, width: 2.5 },
        },
        // histograms (18, 19)
        {
          name: 'Age top', type: 'bar', xAxisIndex: 3, yAxisIndex: 3, barWidth: 7.6, silent: true,
          data: topAgeCounts.map((c, i) => [i, c]),
          itemStyle: { color: HIST, borderColor: '#a9cbd4', borderWidth: 0.5 },
        },
        {
          name: 'Age right', type: 'bar', xAxisIndex: 4, yAxisIndex: 4, barWidth: 7.7, silent: true,
          data: rightAgeCounts.map((c, i) => [i, c]),
          itemStyle: { color: HIST, borderColor: '#a9cbd4', borderWidth: 0.5 },
        },
      ],
      graphic: [
        letter('A', 12, 4),
        letter('B', 12, 473),
        letter('C', 649, 340),
        { type: 'text', left: 763, top: 401, style: { text: 'Age', fontSize: 23, fontFamily: FONT, fill: '#000' } },
      ],
    };
    chart.setOption(option);
    return () => chart.dispose();
  }, []);
  return <div ref={ref} style={{ position: 'fixed', left: 0, top: 0, width: 1239, height: 956, background: '#fff' }} />;
}
